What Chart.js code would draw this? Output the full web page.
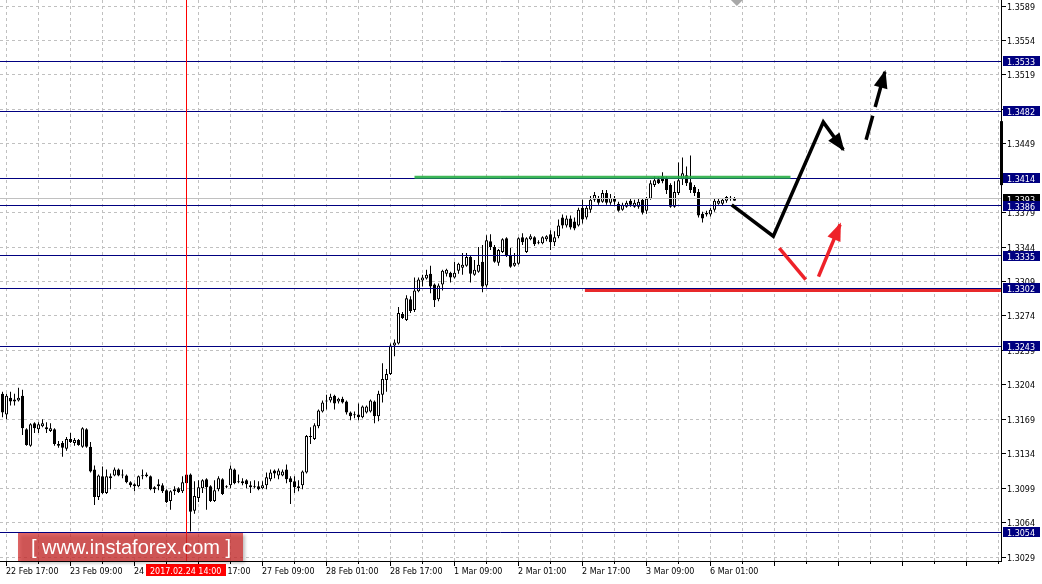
<!DOCTYPE html>
<html>
<head>
<meta charset="utf-8">
<script src="https://cdn.jsdelivr.net/npm/chart.js@4.4.1/dist/chart.umd.min.js"></script>
<style>
    html, body { margin: 0; padding: 0; background: #ffffff; }
    #fx_wrap { width: 1042px; height: 584px; }
</style>
</head>
<body>
<div id="fx_wrap"><canvas id="fx_chart" width="1042" height="584"></canvas></div>
<script>
    // GBPUSD H1, one entry per bar, bar 0 = 22 Feb 16:00
    const opens = [
        1.3195,1.3174,1.3191,1.3189,1.3188,1.3193,1.3159,1.3142,1.3165,1.3159,
        1.3162,1.3161,1.3157,1.3159,1.3144,1.3145,1.3139,1.3149,1.3145,1.3148,
        1.3141,1.3159,1.3141,1.3118,1.3090,1.3111,1.3094,1.3109,1.3112,1.3118,
        1.3113,1.3112,1.3105,1.3103,1.3101,1.3112,1.3113,1.3111,1.3100,1.3101,
        1.3102,1.3097,1.3086,1.3096,1.3099,1.3096,1.3113,1.3113,1.3076,1.3089,
        1.3099,1.3108,1.3101,1.3086,1.3098,1.3108,1.3101,1.3102,1.3118,1.3106,
        1.3106,1.3107,1.3102,1.3101,1.3101,1.3099,1.3102,1.3108,1.3117,1.3112,
        1.3112,1.3118,1.3109,1.3106,1.3099,1.3102,1.3115,1.3151,1.3149,1.3162,
        1.3177,1.3187,1.3188,1.3193,1.3187,1.3190,1.3187,1.3176,1.3174,1.3174,
        1.3171,1.3176,1.3177,1.3187,1.3172,1.3194,1.3209,1.3215,1.3244,1.3246,
        1.3276,1.3270,1.3291,1.3280,1.3299,1.3310,1.3312,1.3317,1.3306,1.3291,
        1.3306,1.3317,1.3318,1.3313,1.3320,1.3323,1.3325,1.3334,1.3316,1.3319,
        1.3329,1.3305,1.3350,1.3344,1.3328,1.3339,1.3353,1.3335,1.3325,1.3327,
        1.3354,1.3339,1.3352,1.3354,1.3349,1.3348,1.3352,1.3357,1.3349,1.3355,
        1.3374,1.3366,1.3373,1.3370,1.3366,1.3384,1.3374,1.3382,1.3392,1.3393,
        1.3390,1.3399,1.3389,1.3393,1.3388,1.3382,1.3385,1.3391,1.3385,1.3385,
        1.3392,1.3381,1.3393,1.3407,1.3413,1.3416,1.3414,1.3407,1.3385,1.3399,
        1.3413,1.3417,1.3410,1.3405,1.3400,1.3378,1.3379,1.3377,1.3382,1.3388,
        1.3388,1.3391,1.3393,1.3394
    ];
    const highs = [
        1.3197,1.3195,1.3197,1.3195,1.3201,1.3199,1.3160,1.3165,1.3166,1.3166,
        1.3169,1.3166,1.3165,1.3160,1.3147,1.3147,1.3151,1.3155,1.3150,1.3149,
        1.3161,1.3160,1.3146,1.3122,1.3113,1.3121,1.3118,1.3114,1.3120,1.3119,
        1.3118,1.3113,1.3106,1.3104,1.3112,1.3118,1.3115,1.3112,1.3101,1.3108,
        1.3104,1.3098,1.3097,1.3101,1.3100,1.3111,1.3114,1.3114,1.3106,1.3107,
        1.3108,1.3109,1.3102,1.3107,1.3111,1.3109,1.3102,1.3122,1.3119,1.3113,
        1.3109,1.3108,1.3106,1.3107,1.3106,1.3106,1.3115,1.3118,1.3118,1.3119,
        1.3118,1.3123,1.3111,1.3111,1.3107,1.3117,1.3153,1.3161,1.3165,1.3179,
        1.3188,1.3194,1.3195,1.3194,1.3191,1.3192,1.3188,1.3177,1.3177,1.3185,
        1.3183,1.3183,1.3189,1.3188,1.3198,1.3226,1.3220,1.3246,1.3250,1.3283,
        1.3278,1.3295,1.3294,1.3313,1.3313,1.3316,1.3321,1.3325,1.3307,1.3307,
        1.3321,1.3322,1.3319,1.3329,1.3328,1.3338,1.3338,1.3335,1.3331,1.3344,
        1.3346,1.3356,1.3357,1.3346,1.3342,1.3353,1.3354,1.3343,1.3338,1.3354,
        1.3358,1.3354,1.3357,1.3355,1.3351,1.3355,1.3356,1.3361,1.3360,1.3372,
        1.3377,1.3376,1.3376,1.3374,1.3384,1.3392,1.3386,1.3396,1.3400,1.3396,
        1.3402,1.3402,1.3398,1.3396,1.3390,1.3389,1.3391,1.3393,1.3392,1.3393,
        1.3394,1.3395,1.3412,1.3416,1.3415,1.3420,1.3416,1.3409,1.3411,1.3430,
        1.3435,1.3426,1.3437,1.3407,1.3403,1.3380,1.3381,1.3384,1.3393,1.3393,
        1.3394,1.3396,1.3396,1.3395
    ];
    const lows = [
        1.3171,1.3169,1.3183,1.3183,1.3187,1.3153,1.3142,1.3141,1.3155,1.3155,
        1.3161,1.3155,1.3156,1.3142,1.3140,1.3131,1.3137,1.3145,1.3142,1.3142,
        1.3140,1.3140,1.3115,1.3082,1.3087,1.3093,1.3093,1.3098,1.3111,1.3111,
        1.3109,1.3104,1.3100,1.3096,1.3100,1.3108,1.3110,1.3097,1.3094,1.3097,
        1.3094,1.3084,1.3077,1.3092,1.3094,1.3094,1.3103,1.3055,1.3073,1.3085,
        1.3094,1.3077,1.3085,1.3085,1.3096,1.3092,1.3099,1.3099,1.3103,1.3104,
        1.3102,1.3099,1.3094,1.3099,1.3097,1.3098,1.3098,1.3106,1.3109,1.3108,
        1.3111,1.3104,1.3083,1.3094,1.3096,1.3098,1.3114,1.3144,1.3148,1.3160,
        1.3176,1.3179,1.3186,1.3179,1.3185,1.3185,1.3174,1.3168,1.3170,1.3168,
        1.3170,1.3175,1.3176,1.3165,1.3167,1.3186,1.3197,1.3214,1.3233,1.3245,
        1.3271,1.3269,1.3277,1.3278,1.3298,1.3304,1.3311,1.3297,1.3283,1.3289,
        1.3300,1.3314,1.3308,1.3312,1.3317,1.3316,1.3324,1.3308,1.3315,1.3318,
        1.3298,1.3303,1.3341,1.3328,1.3325,1.3338,1.3334,1.3323,1.3324,1.3326,
        1.3346,1.3338,1.3351,1.3345,1.3347,1.3347,1.3350,1.3341,1.3345,1.3353,
        1.3363,1.3364,1.3362,1.3361,1.3365,1.3368,1.3372,1.3379,1.3390,1.3387,
        1.3389,1.3387,1.3387,1.3387,1.3380,1.3381,1.3384,1.3385,1.3384,1.3383,
        1.3377,1.3378,1.3392,1.3405,1.3408,1.3409,1.3398,1.3384,1.3384,1.3397,
        1.3407,1.3406,1.3399,1.3396,1.3374,1.3369,1.3375,1.3375,1.3380,1.3387,
        1.3386,1.3389,1.3391,1.3391
    ];
    const closes = [
        1.3176,1.3193,1.3187,1.3187,1.3191,1.3160,1.3143,1.3164,1.3160,1.3164,
        1.3165,1.3159,1.3160,1.3144,1.3142,1.3140,1.3149,1.3146,1.3148,1.3143,
        1.3160,1.3141,1.3116,1.3090,1.3112,1.3094,1.3111,1.3111,1.3118,1.3112,
        1.3112,1.3105,1.3102,1.3101,1.3111,1.3111,1.3111,1.3098,1.3098,1.3103,
        1.3096,1.3085,1.3096,1.3098,1.3095,1.3105,1.3104,1.3075,1.3091,1.3100,
        1.3107,1.3100,1.3086,1.3097,1.3109,1.3093,1.3100,1.3119,1.3104,1.3105,
        1.3104,1.3103,1.3100,1.3100,1.3098,1.3102,1.3110,1.3115,1.3114,1.3117,
        1.3116,1.3108,1.3105,1.3100,1.3101,1.3116,1.3152,1.3152,1.3163,1.3178,
        1.3186,1.3188,1.3192,1.3185,1.3190,1.3186,1.3176,1.3172,1.3173,1.3171,
        1.3182,1.3182,1.3188,1.3172,1.3195,1.3210,1.3215,1.3244,1.3247,1.3277,
        1.3272,1.3292,1.3279,1.3300,1.3311,1.3313,1.3316,1.3304,1.3290,1.3305,
        1.3320,1.3321,1.3313,1.3318,1.3327,1.3326,1.3334,1.3317,1.3321,1.3326,
        1.3304,1.3351,1.3344,1.3329,1.3341,1.3352,1.3335,1.3324,1.3328,1.3353,
        1.3349,1.3353,1.3355,1.3347,1.3348,1.3354,1.3355,1.3349,1.3354,1.3366,
        1.3366,1.3373,1.3364,1.3363,1.3382,1.3372,1.3384,1.3392,1.3397,1.3389,
        1.3399,1.3389,1.3394,1.3390,1.3381,1.3387,1.3389,1.3387,1.3389,1.3390,
        1.3379,1.3393,1.3409,1.3412,1.3409,1.3411,1.3402,1.3385,1.3400,1.3412,
        1.3419,1.3409,1.3402,1.3399,1.3376,1.3373,1.3377,1.3382,1.3391,1.3391,
        1.3392,1.3395,1.3393,1.3391
    ];

    const priceTicks = [1.3029, 1.3064, 1.3099, 1.3134, 1.3169, 1.3204, 1.3239, 1.3274, 1.3309,
                        1.3344, 1.3379, 1.3414, 1.3449, 1.3484, 1.3519, 1.3554, 1.3589];
    const priceTickLabels = ['1.3029', '1.3064', '1.3099', '1.3134', '1.3169', '1.3204', '1.3239', '1.3274', '1.3309',
                             '1.3344', '1.3379', '1.3414', '1.3449', '1.3484', '1.3519', '1.3554', '1.3589'];
    const timeLabels = ['22 Feb 17:00', '23 Feb 09:00', '24 Feb 01:00', '24 Feb 17:00', '27 Feb 09:00', '28 Feb 01:00',
                        '28 Feb 17:00', '1 Mar 09:00', '2 Mar 01:00', '2 Mar 17:00', '3 Mar 09:00', '6 Mar 01:00'];

    const levelPrices = [1.3533, 1.3482, 1.3414, 1.3386, 1.3335, 1.3302, 1.3243, 1.3054];
    const levelLabels = ['1.3533', '1.3482', '1.3414', '1.3386', '1.3335', '1.3302', '1.3243', '1.3054'];
    const bidPrice = 1.3393;
    const bidLabel = '1.3393';
    const crossBar = 46;
    const crossLabel = '2017.02.24 14:00';

    // forecast drawings, x in bars, y in price
    const greenLine = [{x: 103, y: 1.3415}, {x: 197, y: 1.3415}];
    const redLine = [{x: 145.6, y: 1.3300}, {x: 249.6, y: 1.3300}];
    const blackPath = [{x: 182.3, y: 1.3387}, {x: 192.7, y: 1.3355}, {x: 205.2, y: 1.3471}, {x: 210.2, y: 1.3443}];
    const blackDash = [{x: 215.9, y: 1.3453}, {x: 220.6, y: 1.3522}];
    const redDown = [{x: 194.2, y: 1.3343}, {x: 200.8, y: 1.3311}];
    const redUp = [{x: 204.0, y: 1.3314}, {x: 209.4, y: 1.3367}];

    const xMin = -0.625, xMax = 249.625;
    const yMin = 1.30250, yMax = 1.35951;
    const gridBars = [];
    for (let b = 1; b <= xMax; b += 8) gridBars.push(b);

    const ga_font = '8px "DejaVu Sans", Verdana, sans-serif';
    const crisp = v => Math.floor(v) + 0.5;

    function arrowHead(ctx, p0, p1, color) {
        const ang = Math.atan2(p1.y - p0.y, p1.x - p0.x);
        const len = 16, half = 7;
        const bx = p1.x - len * Math.cos(ang), by = p1.y - len * Math.sin(ang);
        ctx.fillStyle = color;
        ctx.beginPath();
        ctx.moveTo(p1.x + 2 * Math.cos(ang), p1.y + 2 * Math.sin(ang));
        ctx.lineTo(bx + half * Math.sin(ang), by - half * Math.cos(ang));
        ctx.lineTo(bx - half * Math.sin(ang), by + half * Math.cos(ang));
        ctx.closePath();
        ctx.fill();
    }

    const mt4Overlay = {
        id: 'mt4_overlay',
        afterDatasetDraw(chart, args) {
            if (args.index !== 1) return;
            const ctx = chart.ctx, a = chart.chartArea, ys = chart.scales.y;
            ctx.save();
            ctx.lineWidth = 1;
            ctx.strokeStyle = '#c0c0c0';
            let y = crisp(ys.getPixelForValue(bidPrice));
            ctx.beginPath(); ctx.moveTo(a.left, y); ctx.lineTo(a.right, y); ctx.stroke();
            ctx.strokeStyle = '#000080';
            levelPrices.forEach(p => {
                y = crisp(ys.getPixelForValue(p));
                ctx.beginPath(); ctx.moveTo(a.left, y); ctx.lineTo(a.right, y); ctx.stroke();
            });
            ctx.restore();
        },
        afterDatasetsDraw(chart) {
            const ctx = chart.ctx, xs = chart.scales.x, ys = chart.scales.y;
            const pt = d => ({x: xs.getPixelForValue(d.x), y: ys.getPixelForValue(d.y)});
            ctx.save();
            arrowHead(ctx, pt(blackPath[2]), pt(blackPath[3]), '#000000');
            arrowHead(ctx, pt(blackDash[0]), pt(blackDash[1]), '#000000');
            arrowHead(ctx, pt(redUp[0]), pt(redUp[1]), '#ee2229');
            ctx.restore();
        },
        afterDraw(chart) {
            const ctx = chart.ctx, a = chart.chartArea, xs = chart.scales.x, ys = chart.scales.y;
            ctx.save();

            // crosshair
            const cx = crisp(xs.getPixelForValue(crossBar));
            ctx.strokeStyle = '#ff0000';
            ctx.lineWidth = 1;
            ctx.beginPath(); ctx.moveTo(cx, a.top); ctx.lineTo(cx, a.bottom); ctx.stroke();

            // axis lines
            ctx.strokeStyle = '#000000';
            ctx.beginPath();
            ctx.moveTo(a.right + 0.5, 0); ctx.lineTo(a.right + 0.5, a.bottom + 1);
            ctx.moveTo(0, a.bottom + 0.5); ctx.lineTo(a.right + 1, a.bottom + 0.5);
            ctx.stroke();

            // price ticks and labels
            ctx.font = ga_font;
            ctx.textBaseline = 'alphabetic';
            ctx.textAlign = 'left';
            ctx.fillStyle = '#000000';
            priceTicks.forEach((p, i) => {
                const y = crisp(ys.getPixelForValue(p));
                ctx.beginPath(); ctx.moveTo(a.right + 1, y); ctx.lineTo(a.right + 5, y); ctx.stroke();
                ctx.fillText(priceTickLabels[i], a.right + 6, y + 3.5);
            });

            // time ticks and labels
            gridBars.forEach(b => {
                const x = crisp(xs.getPixelForValue(b));
                const major = (b - 1) % 16 === 0;
                ctx.beginPath(); ctx.moveTo(x, a.bottom + 1); ctx.lineTo(x, a.bottom + (major ? 5 : 3)); ctx.stroke();
                const li = (b - 1) / 16;
                if (major && li < timeLabels.length) ctx.fillText(timeLabels[li], x - 0.5, a.bottom + 13);
            });

            // current bid box, then level boxes
            const box = (p, txt, bg) => {
                const y = Math.round(ys.getPixelForValue(p));
                ctx.fillStyle = bg;
                ctx.fillRect(a.right + 2, y - 5, 37, 10);
                ctx.fillStyle = '#ffffff';
                ctx.fillText(txt, a.right + 6, y + 3.5);
            };
            box(bidPrice, bidLabel, '#000000');
            levelPrices.forEach((p, i) => box(p, levelLabels[i], '#000080'));

            // black marker on the price scale
            ctx.fillStyle = '#000000';
            ctx.fillRect(a.right - 1, ys.getPixelForValue(1.3472), 3, ys.getPixelForValue(1.3407) - ys.getPixelForValue(1.3472));

            // shift marker
            const sx = xs.getPixelForValue(183.6);
            ctx.fillStyle = '#a8a8a8';
            ctx.beginPath(); ctx.moveTo(sx - 6, 0); ctx.lineTo(sx + 6, 0); ctx.lineTo(sx, 6); ctx.closePath(); ctx.fill();

            // crosshair time label
            ctx.fillStyle = '#ff0000';
            ctx.fillRect(146, a.bottom + 3, 80, 12);
            ctx.fillStyle = '#ffffff';
            ctx.fillText(crossLabel, 150, a.bottom + 13);

            // watermark
            ctx.save();
            ctx.shadowColor = 'rgba(0, 0, 0, 0.35)';
            ctx.shadowOffsetX = 2;
            ctx.shadowOffsetY = 2;
            ctx.shadowBlur = 3;
            ctx.fillStyle = 'rgba(212, 45, 45, 0.72)';
            ctx.fillRect(18, 533, 225, 28);
            ctx.restore();
            ctx.fillStyle = '#ffffff';
            ctx.font = '20px "Liberation Sans", Arial, sans-serif';
            ctx.textAlign = 'center';
            ctx.textBaseline = 'middle';
            ctx.fillText('[ www.instaforex.com ]', 131, 548);

            ctx.restore();
        }
    };

    const lineSet = (data, color, width, dash) => ({
        type: 'line',
        data: data,
        borderColor: color,
        borderWidth: width,
        borderDash: dash || [],
        borderCapStyle: 'butt',
        borderJoinStyle: 'miter',
        pointRadius: 0,
        fill: false,
        tension: 0,
        order: 1,
    });

    const chartCanvas = document.getElementById('fx_chart').getContext('2d');
    const chartObject = new Chart(chartCanvas, {
        type: 'bar',
        data: {
            datasets: [
                {
                    label: 'wicks',
                    data: lows.map((l, i) => ({x: i, y: [l, highs[i]]})),
                    backgroundColor: '#000000',
                    borderWidth: 0,
                    barThickness: 1,
                    grouped: false,
                    inflateAmount: 0,
                    order: 12,
                },
                {
                    label: 'bodies',
                    data: opens.map((o, i) => ({x: i, y: [o, closes[i]]})),
                    backgroundColor: ctx => closes[ctx.dataIndex] > opens[ctx.dataIndex] ? '#ffffff' : '#000000',
                    borderColor: '#000000',
                    borderWidth: 1,
                    borderSkipped: false,
                    barThickness: 3,
                    minBarLength: 1,
                    grouped: false,
                    inflateAmount: 0,
                    order: 11,
                },
                lineSet(greenLine, 'rgba(40, 175, 70, 0.9)', 3),
                lineSet(redLine, '#e8292b', 3),
                lineSet(blackPath, '#000000', 3.5),
                lineSet(blackDash, '#000000', 3.5, [25, 9]),
                lineSet(redDown, '#ee2229', 3.5),
                lineSet(redUp, '#ee2229', 3.5),
            ],
        },
        options: {
            responsive: false,
            animation: false,
            devicePixelRatio: 1,
            events: [],
            layout: { padding: 0 },
            plugins: { legend: { display: false }, tooltip: { enabled: false } },
            scales: {
                x: {
                    type: 'linear',
                    min: xMin,
                    max: xMax,
                    offset: false,
                    bounds: 'data',
                    afterBuildTicks: s => { s.ticks = gridBars.map(v => ({value: v})); },
                    afterFit: s => { s.height = 23; },
                    ticks: { display: false },
                    grid: { color: '#c0c0c0', lineWidth: 1, drawTicks: false, offset: false },
                    border: { display: false, dash: [3, 3] },
                },
                y: {
                    type: 'linear',
                    position: 'right',
                    min: yMin,
                    max: yMax,
                    bounds: 'data',
                    afterBuildTicks: s => { s.ticks = priceTicks.map(v => ({value: v})); },
                    afterFit: s => { s.width = 41; },
                    ticks: { display: false },
                    grid: { color: '#c0c0c0', lineWidth: 1, drawTicks: false },
                    border: { display: false, dash: [3, 3] },
                },
            },
        },
        plugins: [mt4Overlay],
    });
</script>
</body>
</html>
